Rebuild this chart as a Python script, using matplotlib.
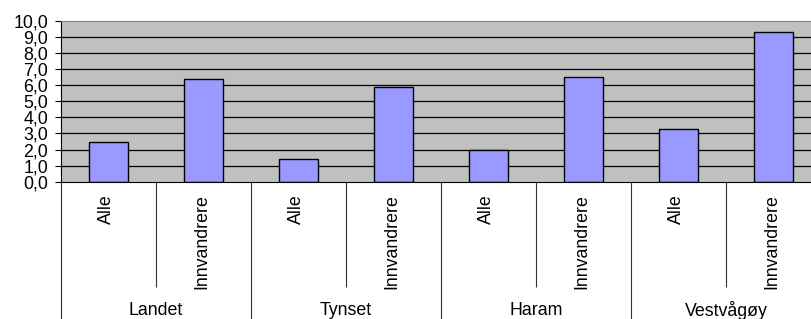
import matplotlib.pyplot as plt
import numpy as np

plt.rcParams['font.family'] = ['Liberation Sans', 'DejaVu Sans']

groups = ["Landet", "Tynset", "Haram", "Vestvågøy"]
subs = ["Alle", "Innvandrere"]
alle = [2.5, 1.4, 2.0, 3.3]
innv = [6.4, 5.9, 6.5, 9.3]
yticks = np.arange(0, 11, 1)

# interleave: Alle, Innvandrere for each group
values = []
labels = []
for a, b in zip(alle, innv):
    values += [a, b]
    labels += subs

fig = plt.figure(figsize=(8.12, 3.19), dpi=100)
ax = fig.add_axes([61 / 812, 1 - 181.7 / 319, 760 / 812, 160.7 / 319])

x = np.arange(len(values))
ax.set_facecolor('#C0C0C0')
ax.bar(x, values, width=0.42, color='#9999FF', edgecolor='black', linewidth=1.0, zorder=3)

ax.set_xlim(-0.5, len(values) - 0.5)
ax.set_ylim(0, 10)
ax.set_yticks(yticks)
ax.set_yticklabels([f"{v:.1f}".replace('.', ',') for v in yticks], fontsize=12.8)
for v in yticks[1:-1]:
    ax.axhline(v, color='black', linewidth=0.9, zorder=1)

for s in ['right']:
    ax.spines[s].set_visible(False)
ax.spines['top'].set_color('#808080')
ax.spines['left'].set_color('black')
ax.spines['bottom'].set_color('black')
ax.spines['bottom'].set_zorder(4)

ax.tick_params(axis='y', direction='out', length=4.3, width=0.8, pad=5)

# category axis: long ticks between groups, short ticks between subcategories
ax.set_xticks(np.arange(-0.5, len(values), 2))
ax.set_xticks(np.arange(0.5, len(values), 2), minor=True)
ax.tick_params(axis='x', which='major', direction='out', length=110, width=0.8,
               color='#333333', labelbottom=False)
ax.tick_params(axis='x', which='minor', direction='out', length=75.6, width=0.8,
               color='#333333', labelbottom=False)

tr = ax.get_xaxis_transform()
for xi, lab in zip(x, labels):
    ax.text(xi - 0.02, -0.08, lab, rotation=90, ha='center', va='top',
            fontsize=12.8, transform=tr)
for gi, g in enumerate(groups):
    ax.text(gi * 2 + 0.5, -0.80, g, ha='center', va='center',
            fontsize=12.8, transform=tr)

fig.savefig('out.png', dpi=100)
